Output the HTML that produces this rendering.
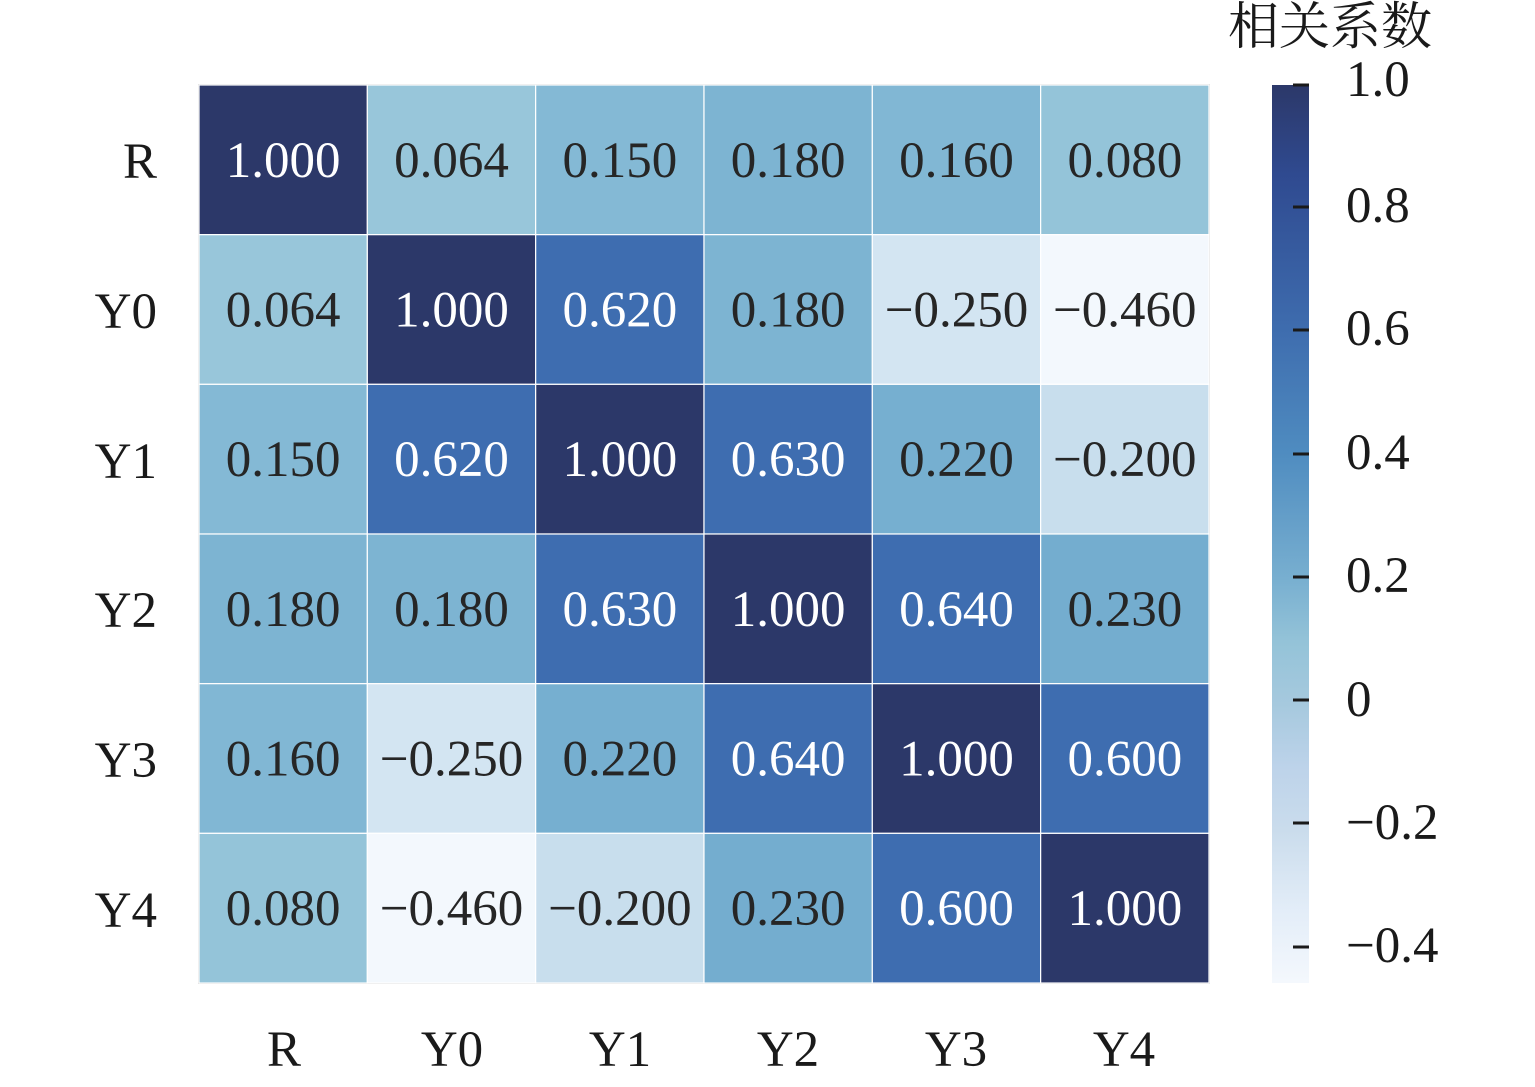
<!DOCTYPE html>
<html><head><meta charset="utf-8"><style>
html,body{margin:0;padding:0;background:#fff}
svg text{font-family:"Liberation Serif","Noto Serif CJK SC",serif}
</style></head><body>
<svg width="1535" height="1082" viewBox="0 0 1535 1082" xmlns="http://www.w3.org/2000/svg">
<defs>
<linearGradient id="cb" x1="0" y1="0" x2="0" y2="1">
<stop offset="0" stop-color="#2c3869"/>
<stop offset="0.1" stop-color="#2f4a90"/>
<stop offset="0.27" stop-color="#3e6cae"/>
<stop offset="0.41" stop-color="#4f8cc0"/>
<stop offset="0.55" stop-color="#78afd0"/>
<stop offset="0.62" stop-color="#94c3d8"/>
<stop offset="0.69" stop-color="#a6c9de"/>
<stop offset="0.76" stop-color="#bdd3ea"/>
<stop offset="0.83" stop-color="#cadcec"/>
<stop offset="0.92" stop-color="#e3edf8"/>
<stop offset="1" stop-color="#f4f8fd"/>
</linearGradient>
</defs>
<rect x="198.5" y="84.5" width="1011" height="899" fill="none" stroke="#d8d8d8" stroke-width="1"/>
<g id="cells" stroke="#fff" stroke-width="1.2"></g>
<g id="txt" font-size="51" text-anchor="middle"></g>
<g font-size="51" fill="#1a1a1a">
<text x="157" y="178" text-anchor="end">R</text>
<text x="157" y="328" text-anchor="end">Y0</text>
<text x="157" y="478" text-anchor="end">Y1</text>
<text x="157" y="627" text-anchor="end">Y2</text>
<text x="157" y="777" text-anchor="end">Y3</text>
<text x="157" y="927" text-anchor="end">Y4</text>
<text x="284" y="1066" text-anchor="middle">R</text>
<text x="452" y="1066" text-anchor="middle">Y0</text>
<text x="620" y="1066" text-anchor="middle">Y1</text>
<text x="788" y="1066" text-anchor="middle">Y2</text>
<text x="956" y="1066" text-anchor="middle">Y3</text>
<text x="1124" y="1066" text-anchor="middle">Y4</text>
<text x="1330" y="44" text-anchor="middle" font-size="51">相关系数</text>
</g>
<rect x="1272" y="85" width="37" height="898" fill="url(#cb)"/>
<g stroke="#1a1a1a" stroke-width="3">
<line x1="1293" x2="1309" y1="85" y2="85"/>
<line x1="1293" x2="1309" y1="207" y2="207"/>
<line x1="1293" x2="1309" y1="330" y2="330"/>
<line x1="1293" x2="1309" y1="454" y2="454"/>
<line x1="1293" x2="1309" y1="577" y2="577"/>
<line x1="1293" x2="1309" y1="700" y2="700"/>
<line x1="1293" x2="1309" y1="823" y2="823"/>
<line x1="1293" x2="1309" y1="947" y2="947"/>
</g>
<g font-size="51" fill="#1a1a1a">
<text x="1346" y="96">1.0</text>
<text x="1346" y="222">0.8</text>
<text x="1346" y="345">0.6</text>
<text x="1346" y="469">0.4</text>
<text x="1346" y="592">0.2</text>
<text x="1346" y="716">0</text>
<text x="1346" y="839">−0.2</text>
<text x="1346" y="962">−0.4</text>
</g>
</svg>
<script>
var M=[[1,0.064,0.15,0.18,0.16,0.08],[0.064,1,0.62,0.18,-0.25,-0.46],[0.15,0.62,1,0.63,0.22,-0.2],[0.18,0.18,0.63,1,0.64,0.23],[0.16,-0.25,0.22,0.64,1,0.6],[0.08,-0.46,-0.2,0.23,0.6,1]];
function col(v){
 if(v==1)return"#2c3869";
 if(v>=0.6)return"#3e6db0";
 var m={"0.23":"#74adcf","0.22":"#76afd0","0.18":"#7db4d2","0.16":"#81b7d4","0.15":"#84b9d5","0.08":"#94c4d9","0.064":"#98c6da","-0.2":"#c8deed","-0.25":"#d3e5f2","-0.46":"#f3f8fd"};
 return m[String(v)];
}
var ns="http://www.w3.org/2000/svg",C=document.getElementById("cells"),T=document.getElementById("txt");
var x0=199,y0=85,w=168.33,h=149.67;
for(var r=0;r<6;r++)for(var c=0;c<6;c++){
 var v=M[r][c],e=document.createElementNS(ns,"rect");
 e.setAttribute("x",x0+c*w);e.setAttribute("y",y0+r*h);e.setAttribute("width",w);e.setAttribute("height",h);e.setAttribute("fill",col(v));C.appendChild(e);
 var t=document.createElementNS(ns,"text");
 t.setAttribute("x",x0+c*w+w/2);t.setAttribute("y",y0+r*h+h/2+17);
 t.setAttribute("fill",v>=0.6?"#ffffff":"#262626");
 t.textContent=(v<0?"−":"")+Math.abs(v).toFixed(3);T.appendChild(t);
}
</script>
</body></html>
